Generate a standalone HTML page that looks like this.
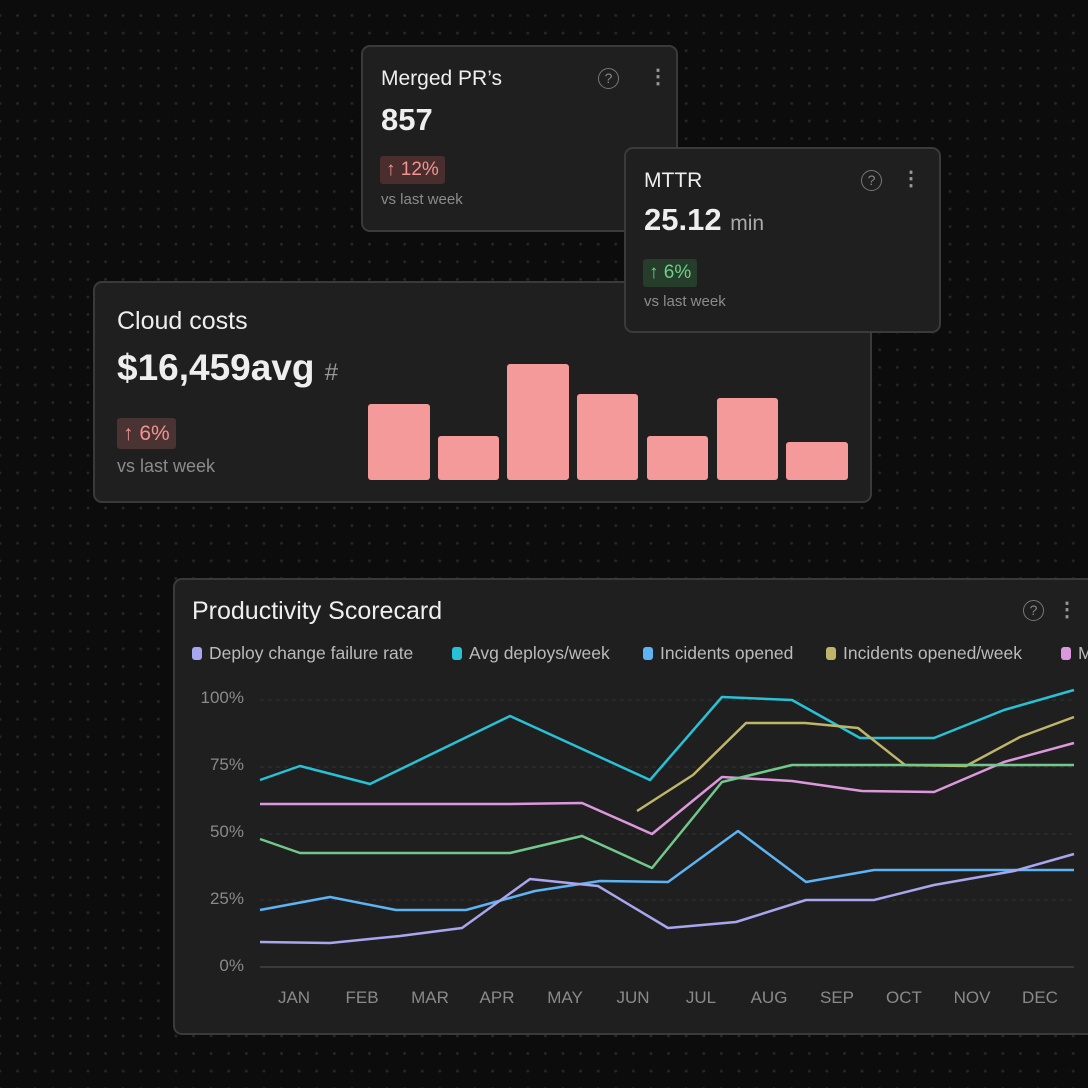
<!DOCTYPE html>
<html><head><meta charset="utf-8"><style>
*{margin:0;padding:0;box-sizing:border-box}
body{width:1088px;height:1088px;overflow:hidden;background-color:#0c0c0d;background-image:radial-gradient(circle,#262628 1.3px,transparent 1.6px);background-size:17.6px 17.6px;background-position:-8.8px 6.7px;font-family:"Liberation Sans",sans-serif;position:relative}
.card{position:absolute;background:#1f1f1f;border:2px solid #3a3a3a;border-radius:9px;color:#eee}
.t{position:absolute;white-space:nowrap}
.badge{position:absolute;border-radius:3px;font-size:19px;padding:0 6px;height:28px;line-height:28px}
.sub{color:#8c8c8c;font-size:16px}
.q{position:absolute;width:21px;height:21px;border:1.5px solid #777;border-radius:50%;color:#888;font-size:14px;text-align:center;line-height:18px}
.dots{position:absolute;color:#999;font-size:20px;line-height:20px;font-weight:bold}
.lg{position:absolute;top:63px;font-size:17.5px;color:#bbb;white-space:nowrap}
.lg i{display:inline-block;width:10px;height:13px;border-radius:3px;margin-right:7px;vertical-align:-1px}
</style></head><body>
<div class="card" style="left:361px;top:45px;width:317px;height:187px">
<div class="t" style="left:18px;top:20px;font-size:21px">Merged PR’s</div>
<div class="t" style="left:18px;top:55px;font-size:31px;font-weight:bold">857</div>
<div class="badge" style="left:17px;top:109px;background:#4a2e2e;color:#f29393">↑ 12%</div>
<div class="t sub" style="left:18px;top:144px;font-size:15px">vs last week</div>
<div class="q" style="left:235px;top:21px">?</div>
<div class="dots" style="left:285px;top:20px">⋮</div>
</div>
<div class="card" style="left:93px;top:281px;width:779px;height:222px">
<div class="t" style="left:22px;top:24px;font-size:25px">Cloud costs</div>
<div class="t" style="left:22px;top:64px;font-size:37px;font-weight:bold">$16,459avg <span style="font-size:24px;color:#999;font-weight:normal">#</span></div>
<div class="badge" style="left:22px;top:135px;background:#4a3333;color:#f29393;height:31px;line-height:31px;font-size:21px">↑ 6%</div>
<div class="t sub" style="left:22px;top:173px;font-size:18px">vs last week</div>
<svg style="position:absolute;left:0;top:0" width="779" height="222">
<g fill="#f49a9a" transform="translate(-95,-283)">
<rect x="368" y="404" width="62" height="76" rx="3"/><rect x="438" y="436" width="61" height="44" rx="3"/>
<rect x="507" y="364" width="62" height="116" rx="3"/><rect x="577" y="394" width="61" height="86" rx="3"/>
<rect x="647" y="436" width="61" height="44" rx="3"/><rect x="717" y="398" width="61" height="82" rx="3"/>
<rect x="786" y="442" width="62" height="38" rx="3"/></g></svg>
</div>
<div class="card" style="left:624px;top:147px;width:317px;height:186px">
<div class="t" style="left:18px;top:20px;font-size:21px">MTTR</div>
<div class="t" style="left:18px;top:53px;font-size:31px;font-weight:bold">25.12 <span style="font-size:21px;color:#aaa;font-weight:normal">min</span></div>
<div class="badge" style="left:17px;top:110px;background:#263d2c;color:#6fcf86">↑ 6%</div>
<div class="t sub" style="left:18px;top:144px;font-size:15px">vs last week</div>
<div class="q" style="left:235px;top:21px">?</div>
<div class="dots" style="left:275px;top:20px">⋮</div>
</div>
<div class="card" style="left:173px;top:578px;width:930px;height:457px">
<div class="t" style="left:17px;top:17px;font-size:25px">Productivity Scorecard</div>
<div class="q" style="left:848px;top:20px">?</div>
<div class="dots" style="left:882px;top:20px">⋮</div>
<div class="lg" style="left:17px"><i style="background:#a9a6f0"></i>Deploy change failure rate</div>
<div class="lg" style="left:277px"><i style="background:#27c2d6"></i>Avg deploys/week</div>
<div class="lg" style="left:468px"><i style="background:#5db4f5"></i>Incidents opened</div>
<div class="lg" style="left:651px"><i style="background:#bfb56a"></i>Incidents opened/week</div>
<div class="lg" style="left:886px"><i style="background:#dc98dc"></i>M</div>
</div>
<svg style="position:absolute;left:0;top:0" width="1088" height="1088" font-family="Liberation Sans, sans-serif">
<g stroke="#333" stroke-dasharray="4 4"><line x1="260" y1="700" x2="1074" y2="700"/><line x1="260" y1="767" x2="1074" y2="767"/><line x1="260" y1="834" x2="1074" y2="834"/><line x1="260" y1="900" x2="1074" y2="900"/></g>
<line x1="260" y1="967" x2="1074" y2="967" stroke="#444" stroke-width="1.5"/>
<g fill="#8a8a8a" font-size="17" text-anchor="end"><text x="244" y="703">100%</text><text x="244" y="770">75%</text><text x="244" y="837">50%</text><text x="244" y="904">25%</text><text x="244" y="971">0%</text></g>
<g fill="#8a8a8a" font-size="17" text-anchor="middle"><text x="294" y="1003">JAN</text><text x="362" y="1003">FEB</text><text x="430" y="1003">MAR</text><text x="497" y="1003">APR</text><text x="565" y="1003">MAY</text><text x="633" y="1003">JUN</text><text x="701" y="1003">JUL</text><text x="769" y="1003">AUG</text><text x="837" y="1003">SEP</text><text x="904" y="1003">OCT</text><text x="972" y="1003">NOV</text><text x="1040" y="1003">DEC</text></g>
<g fill="none" stroke-width="2.5" stroke-linejoin="round">
<polyline stroke="#27c2d6" points="260,780 300,766 370,784 510,716 650,780 722,697 792,700 860,738 934,738 1004,710 1074,690"/>
<polyline stroke="#bfb56a" points="637,811 693,775 746,723 805,723 858,728 905,765 966,766 1020,737 1074,717"/>
<polyline stroke="#dc98dc" points="260,804 510,804 582,803 652,834 722,777 792,781 862,791 934,792 1004,762 1074,743"/>
<polyline stroke="#72c88a" points="260,839 300,853 510,853 582,836 652,868 722,782 792,765 1074,765"/>
<polyline stroke="#5db4f5" points="260,910 330,897 396,910 466,910 535,891 600,881 668,882 738,831 806,882 874,870 1074,870"/>
<polyline stroke="#a9a6f0" points="260,942 330,943 400,936 462,928 530,879 598,886 668,928 736,922 806,900 874,900 934,885 1014,871 1074,854"/>
</g></svg>
</body></html>
